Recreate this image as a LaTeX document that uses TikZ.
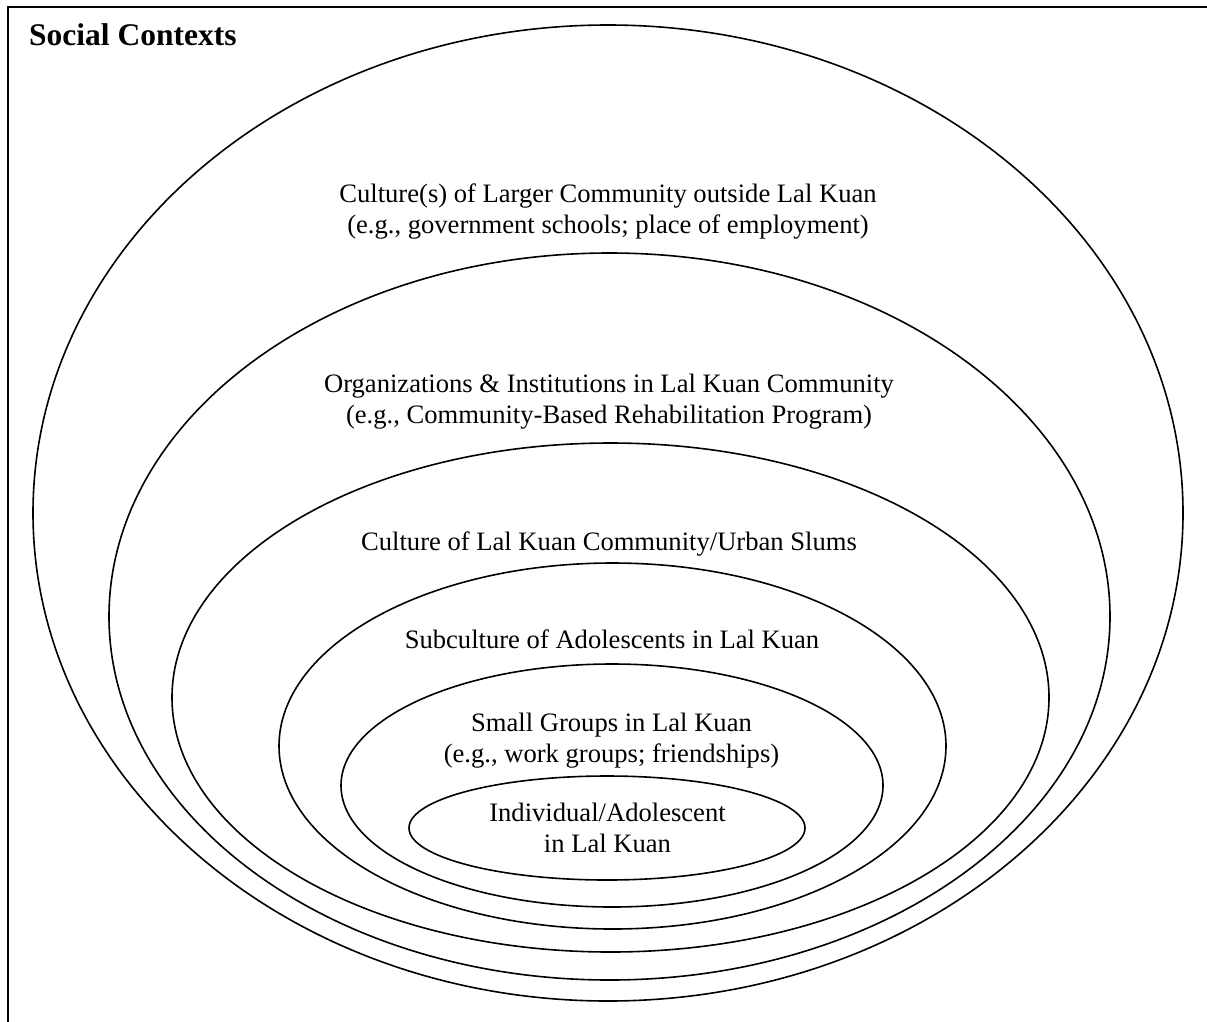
\documentclass[tikz,border=0pt]{standalone}
\usepackage{fontspec}
\setmainfont{Liberation Serif}
\begin{document}
\begin{tikzpicture}[x=1pt,y=-1pt,
  ring/.style={draw=black,line width=1.6pt},
  lbl/.style={align=center,anchor=base,inner sep=0pt,font=\fontsize{26.6}{31}\selectfont},
  frame/.style={draw=black,line width=2pt}]
\useasboundingbox (0,0) rectangle (1207,1021);
% frame (only top and left sides visible)
\coordinate (fb) at (8,1030);
\coordinate (ftl) at (8,6.5);
\coordinate (fr) at (1215,6.5);
\draw[frame] (fb) -- (ftl) -- (fr);
\node[anchor=base west,inner sep=0pt,font=\fontsize{31.5}{36}\selectfont\bfseries] (title) at (29,45) {Social Contexts};
% ellipses
\draw[ring] (608,513) ellipse [x radius=575, y radius=488];
\draw[ring] (609.5,616.5) ellipse [x radius=500.5, y radius=363.5];
\draw[ring] (610.5,697.5) ellipse [x radius=438.5, y radius=254.5];
\draw[ring] (612.5,746) ellipse [x radius=333.5, y radius=183];
\draw[ring] (612,785.5) ellipse [x radius=271, y radius=121.5];
\draw[ring] (607,828) ellipse [x radius=198, y radius=52];
% labels (base anchor = baseline of the last line)
\node[lbl] (l1) at (608,233.3) {Culture(s) of Larger Community outside Lal Kuan\\(e.g., government schools; place of employment)};
\node[lbl] (l2) at (609,423.3) {Organizations \& Institutions in Lal Kuan Community\\(e.g., Community-Based Rehabilitation Program)};
\node[lbl] (l3) at (609,550) {Culture of Lal Kuan Community/Urban Slums};
\node[lbl] (l4) at (612,648.3) {Subculture of Adolescents in Lal Kuan};
\node[lbl] (l5) at (611.5,762.3) {Small Groups in Lal Kuan\\(e.g., work groups; friendships)};
\node[lbl] (l6) at (607.5,852) {Individual/Adolescent\\in Lal Kuan};
\end{tikzpicture}
\end{document}
